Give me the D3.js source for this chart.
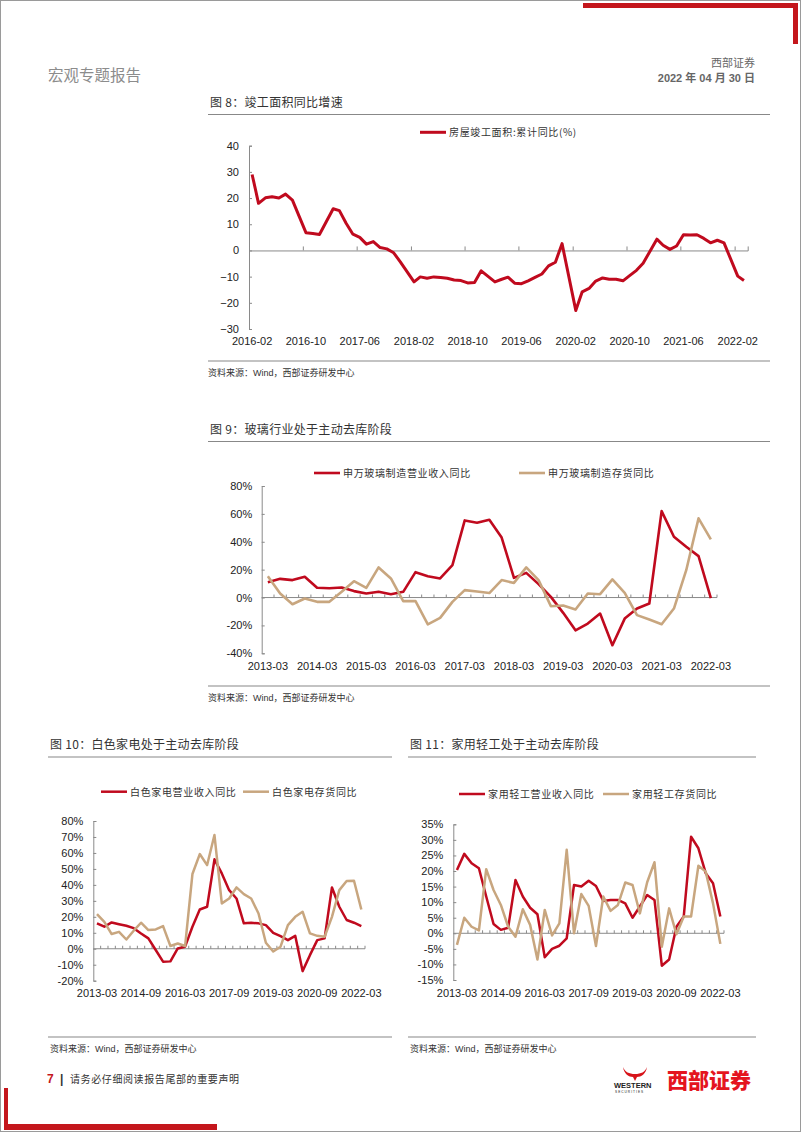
<!DOCTYPE html>
<html><head><meta charset="utf-8">
<script src="https://cdn.jsdelivr.net/npm/d3@7/dist/d3.min.js"></script>
<style>
html,body{margin:0;padding:0;background:#fff;}
svg{display:block;}
text{font-family:"Liberation Sans",Arial,"Noto Sans CJK SC",sans-serif;}
</style></head><body>
<svg id="page" width="802" height="1133"></svg>
<script>
// ---------- Chart 8: 房屋竣工面积:累计同比(%) ----------
const completionMonths = [
 "2016-02","2016-03","2016-04","2016-05","2016-06","2016-07","2016-08","2016-09","2016-10","2016-11","2016-12",
 "2017-02","2017-03","2017-04","2017-05","2017-06","2017-07","2017-08","2017-09","2017-10","2017-11","2017-12",
 "2018-02","2018-03","2018-04","2018-05","2018-06","2018-07","2018-08","2018-09","2018-10","2018-11","2018-12",
 "2019-02","2019-03","2019-04","2019-05","2019-06","2019-07","2019-08","2019-09","2019-10","2019-11","2019-12",
 "2020-02","2020-03","2020-04","2020-05","2020-06","2020-07","2020-08","2020-09","2020-10","2020-11","2020-12",
 "2021-02","2021-03","2021-04","2021-05","2021-06","2021-07","2021-08","2021-09","2021-10","2021-11","2021-12",
 "2022-02","2022-03"];
const completionYoY = [
 29.0, 18.0, 20.1, 20.5, 20.0, 21.5, 19.2, 12.9, 6.8, 6.5, 6.1,
 15.9, 15.2, 10.3, 6.2, 5.0, 2.4, 3.4, 1.1, 0.6, -0.9, -4.4,
 -12.0, -10.1, -10.6, -10.1, -10.3, -10.6, -11.3, -11.5, -12.4, -12.2, -7.8,
 -12.0, -11.1, -10.2, -12.5, -12.7, -11.6, -10.3, -9.0, -5.9, -4.5, 2.6,
 -22.9, -15.8, -14.5, -11.7, -10.5, -11.0, -11.0, -11.6, -9.6, -7.6, -4.9,
 4.3, 2.0, 0.4, 1.7, 6.0, 5.9, 6.0, 4.6, 2.9, 3.9, 2.9,
 -9.8, -11.5];
const completionTicks = ["2016-02","2016-10","2017-06","2018-02","2018-10","2019-06","2020-02","2020-10","2021-06","2022-02"];
const completionYTicks = [-30,-20,-10,0,10,20,30,40];
const completionName = "房屋竣工面积:累计同比(%)";

// ---------- Quarterly categories (charts 9-11) ----------
const quarters = [
 "2013-03","2013-06","2013-09","2013-12","2014-03","2014-06","2014-09","2014-12",
 "2015-03","2015-06","2015-09","2015-12","2016-03","2016-06","2016-09","2016-12",
 "2017-03","2017-06","2017-09","2017-12","2018-03","2018-06","2018-09","2018-12",
 "2019-03","2019-06","2019-09","2019-12","2020-03","2020-06","2020-09","2020-12",
 "2021-03","2021-06","2021-09","2021-12","2022-03"];

// ---------- Chart 9: 玻璃 ----------
const glassRevenue = [11, 13.4, 12.5, 14.9, 7, 6.7, 7.2, 4.6, 2.9, 4.1, 2.4, 4.1, 18.2, 15.3, 13.7, 23.2,
 55.3, 53.7, 55.8, 43, 14.1, 17.7, 9.6, 0.5, -11, -23.5, -18.7, -11.5, -34.2, -15.1, -7.9, -4.3,
 62, 43.6, 36.4, 29.7, -0.5];
const glassInventory = [15.3, 2.9, -4.8, -0.7, -3.1, -3.1, 4.1, 11.7, 6.9, 21.6, 13.7, -2.6, -2.6, -19.2, -14.6, -3.1,
 5.3, 4.3, 3.2, 12.5, 10.5, 21.6, 12.5, -6.2, -5.7, -8.6, 2.9, 2.4, 13.0, 3.4, -12.6, -15.8,
 -19.2, -7.9, 19.6, 56.8, 41.7];
const glassTicks = ["2013-03","2014-03","2015-03","2016-03","2017-03","2018-03","2019-03","2020-03","2021-03","2022-03"];
const glassYTicks = [-40,-20,0,20,40,60,80];
const glassNames = ["申万玻璃制造营业收入同比","申万玻璃制造存货同比"];

// ---------- Chart 10: 白色家电 ----------
const applianceRevenue = [15.9, 13.8, 16.5, 15.4, 14.4, 12.9, 9.6, 6.5, -0.8, -8.1, -7.9, 0.2, 1.3, 13.8, 24.6, 26.3,
 56.0, 47.2, 36.7, 31.5, 15.9, 16.3, 15.9, 14.8, 10.0, 7.9, 5.4, 8.1, -14.0, -4.0, 5.4, 6.5,
 38.4, 26.3, 18.0, 16.3, 14.2];
const applianceInventory = [21.7, 16.9, 9.2, 10.6, 5.8, 11.3, 16.3, 11.7, 12.1, 14.2, 1.7, 3.3, 1.7, 46.8, 59.3, 52.4,
 71.2, 28.4, 31.5, 38.4, 34.2, 31.5, 22.1, 3.8, -1.7, 1.3, 14.8, 20.0, 23.2, 9.6, 8.1, 7.5,
 20.0, 36.7, 42.4, 42.6, 24.6];
const applianceYTicks = [-20,-10,0,10,20,30,40,50,60,70,80];
const applianceNames = ["白色家电营业收入同比","白色家电存货同比"];

// ---------- Chart 11: 家用轻工 ----------
const lightRevenue = [20.3, 25.5, 22.5, 20.9, 11.8, 3.0, 1.1, 1.8, 17.1, 11.8, 8.2, 6.1, -7.7, -5.0, -4.0, -1.6,
 15.5, 15.0, 16.9, 15.2, 10.4, 10.7, 10.7, 9.6, 5.0, 8.6, 12.3, 10.7, -10.4, -8.4, 2.1, 5.4,
 31.0, 27.3, 19.3, 16.1, 5.4];
const lightInventory = [-3.7, 5.0, 2.1, 0.9, 20.6, 13.9, 9.1, 2.1, -1.1, 7.7, 2.7, -8.4, 7.5, -0.7, 3.2, 26.8,
 0.0, 12.6, 8.8, -4.1, 11.8, 7.2, 9.1, 16.3, 15.5, 6.4, 16.4, 22.8, -4.3, 8.0, -0.3, 5.4,
 5.4, 21.7, 19.8, 9.6, -3.4];
const lightYTicks = [-15,-10,-5,0,5,10,15,20,25,30,35];
const lightNames = ["家用轻工营业收入同比","家用轻工存货同比"];
const halfTicks = ["2013-03","2014-09","2016-03","2017-09","2019-03","2020-09","2022-03"];

// ---------- styles ----------
const RED = "#C00A1E", TAN = "#C8A67F", AXIS = "#8a8a8a";
const svg = d3.select("#page");
const cjk = '"Noto Sans CJK SC","Liberation Sans",sans-serif';

// page frame
svg.append("rect").attr("x",0.5).attr("y",0.5).attr("width",800).attr("height",1131)
  .attr("fill","none").attr("stroke","#9a9a9a").attr("stroke-width",1);
// top-right red corner
svg.append("rect").attr("x",583).attr("y",3).attr("width",215).attr("height",5).attr("fill","#C4161C");
svg.append("rect").attr("x",793).attr("y",3).attr("width",5).attr("height",41).attr("fill","#C4161C");
// bottom-left red corner
svg.append("rect").attr("x",4).attr("y",1088).attr("width",4).attr("height",42).attr("fill","#C4161C");
svg.append("rect").attr("x",4).attr("y",1124).attr("width",213).attr("height",6).attr("fill","#C4161C");

// header
svg.append("text").attr("x",48).attr("y",81).style("font-family",cjk).style("font-size","15.5px")
  .attr("fill","#8c8c8c").text("宏观专题报告");
svg.append("text").attr("x",755).attr("y",67).attr("text-anchor","end").style("font-family",cjk)
  .style("font-size","11px").attr("fill","#666").text("西部证券");
svg.append("text").attr("x",755).attr("y",82).attr("text-anchor","end")
  .style("font-size","11px").style("font-weight","bold").attr("fill","#666").text("2022 年 04 月 30 日");

// footer
svg.append("text").attr("x",47).attr("y",1083).style("font-size","12px").style("font-weight","bold")
  .attr("fill","#C4161C").text("7");
svg.append("text").attr("x",60).attr("y",1083).style("font-size","12px").style("font-weight","bold")
  .attr("fill","#333").text("|");
svg.append("text").attr("x",70).attr("y",1083).style("font-family",cjk).style("font-size","10px")
  .style("letter-spacing","0.6px").attr("fill","#333").text("请务必仔细阅读报告尾部的重要声明");
// logo
svg.append("path").attr("d","M623,1067 C624,1074 629,1077 633,1077 L635,1081 L637,1077 C641,1077 646,1074 647,1067 C645,1072 641,1074 635,1074 C629,1074 625,1072 623,1067 Z")
  .attr("fill","#D7141A");
svg.append("text").attr("x",614).attr("y",1088).style("font-size","7.5px").style("font-weight","bold")
  .attr("fill","#222").text("WESTERN");
svg.append("text").attr("x",615).attr("y",1093).style("font-size","3.2px").style("letter-spacing","1px")
  .attr("fill","#222").text("SECURITIES");
svg.append("text").attr("x",667).attr("y",1088).style("font-family",cjk).style("font-size","21px")
  .style("font-weight","900").attr("fill","#E4151F").text("西部证券");

// titles + rules + source
function figureTitle(x, y, text, x1, x2, ruleY) {
  svg.append("text").attr("x",x).attr("y",y).style("font-family",cjk).style("font-size","12px")
    .style("letter-spacing","0.3px").attr("fill","#333").text(text);
  svg.append("line").attr("x1",x1).attr("x2",x2).attr("y1",ruleY).attr("y2",ruleY)
    .attr("stroke","#888").attr("stroke-width",1.2);
}
function source(x, y, x1, x2, ruleY) {
  svg.append("line").attr("x1",x1).attr("x2",x2).attr("y1",ruleY).attr("y2",ruleY)
    .attr("stroke","#888").attr("stroke-width",1.2);
  svg.append("text").attr("x",x).attr("y",y).style("font-size","9px").attr("fill","#333")
    .text("资料来源：Wind，西部证券研发中心");
}
figureTitle(210, 107, "图 8：竣工面积同比增速", 208, 770, 114.5);
source(208, 376, 208, 770, 361);
figureTitle(210, 434, "图 9：玻璃行业处于主动去库阶段", 208, 770, 441.5);
source(208, 701, 208, 770, 686);
figureTitle(50, 749, "图 10：白色家电处于主动去库阶段", 48, 392, 757);
figureTitle(410, 749, "图 11：家用轻工处于主动去库阶段", 408, 756, 757);
source(50, 1052, 48, 392, 1037);
source(410, 1052, 408, 756, 1037);

function legendItem(x, y, color, name, lw) {
  svg.append("line").attr("x1",x).attr("x2",x+26).attr("y1",y).attr("y2",y)
    .attr("stroke",color).attr("stroke-width",lw);
  svg.append("text").attr("x",x+29).attr("y",y+3.8).style("font-family",cjk).style("font-size","10px")
    .style("letter-spacing","0.65px").attr("fill","#333").text(name);
}

function styleAxis(g) {
  g.selectAll(".domain").attr("stroke",AXIS);
  g.selectAll(".tick line").attr("stroke",AXIS);
  g.selectAll("text").style("font-size","11px").attr("fill","#222")
    .style("font-family",'"Liberation Sans",Arial,sans-serif');
}

// ---------- Chart 8 ----------
(function(){
  const parse = d3.timeParse("%Y-%m");
  const x = d3.scaleTime().domain([new Date(2016,1,1), new Date(2022,3,1)]).range([249, 747.7]);
  const y = d3.scaleLinear().domain([-30,40]).range([329,145.7]);
  const mid = s => d3.timeDay.offset(parse(s), 14);
  const ya = svg.append("g").attr("transform","translate(249,0)")
    .call(d3.axisLeft(y).tickValues(completionYTicks).tickSize(-3).tickPadding(10).tickFormat(d3.format("d")));
  styleAxis(ya);
  // zero line with tick marks
  const xa = svg.append("g").attr("transform",`translate(0,${y(0)})`)
    .call(d3.axisTop(x).tickValues(completionTicks.map(parse)).tickSize(4).tickFormat(""));
  styleAxis(xa);
  // labels at bottom
  svg.append("g").selectAll("text").data(completionTicks).join("text")
    .attr("x", d => x(mid(d))).attr("y", y(-30) + 16).attr("text-anchor","middle")
    .style("font-size","11px").attr("fill","#222").text(d => d);
  const pts = completionMonths.map((m,i)=>({d:mid(m), v:completionYoY[i]}));
  svg.append("path").datum(pts)
    .attr("d", d3.line().x(p=>x(p.d)).y(p=>y(p.v)))
    .attr("fill","none").attr("stroke",RED).attr("stroke-width",3).attr("stroke-linejoin","round");
  legendItem(420, 132.3, RED, completionName, 3);
})();

// ---------- quarterly chart ----------
function quarterChart(o) {
  const x = d3.scaleBand().domain(quarters).range([o.x0, o.x1]).padding(0);
  const y = d3.scaleLinear().domain(o.domain).range([o.yb, o.yt]);
  const ya = svg.append("g").attr("transform",`translate(${o.x0},0)`)
    .call(d3.axisLeft(y).tickValues(o.yTicks).tickSize(-3).tickPadding(o.pad).tickFormat(d => d + "%"));
  styleAxis(ya);
  // category boundaries on zero line
  const bounds = quarters.map(q => x(q) + x.bandwidth());
  const z = y(0);
  svg.append("line").attr("x1",o.x0).attr("x2",o.x1).attr("y1",z).attr("y2",z).attr("stroke",AXIS);
  svg.append("g").selectAll("line").data(bounds).join("line")
    .attr("x1",d=>d).attr("x2",d=>d).attr("y1",z).attr("y2",z-3).attr("stroke",AXIS);
  svg.append("g").selectAll("text").data(o.xTicks).join("text")
    .attr("x", d => x(d) + x.bandwidth()/2).attr("y", o.yb + 16.5).attr("text-anchor","middle")
    .style("font-size","11px").attr("fill","#222").text(d => d);
  const line = d3.line().x((v,i) => x(quarters[i]) + x.bandwidth()/2).y(v => y(v));
  o.series.forEach(s => {
    svg.append("path").datum(s.values).attr("d", line)
      .attr("fill","none").attr("stroke",s.color).attr("stroke-width",o.lw).attr("stroke-linejoin","round");
  });
  o.series.forEach(s => legendItem(s.lx, o.ly, s.color, s.name, o.lw));
}

quarterChart({x0:261.7, x1:717, yt:486, yb:653.3, domain:[-40,80], yTicks:glassYTicks, pad:9.5,
  xTicks:glassTicks, lw:2.6, ly:473,
  series:[{values:glassRevenue, color:RED, name:glassNames[0], lx:314},
          {values:glassInventory, color:TAN, name:glassNames[1], lx:519}]});

quarterChart({x0:93.3, x1:365, yt:821, yb:980.7, domain:[-20,80], yTicks:applianceYTicks, pad:10,
  xTicks:halfTicks, lw:2.5, ly:791.7,
  series:[{values:applianceRevenue, color:RED, name:applianceNames[0], lx:101},
          {values:applianceInventory, color:TAN, name:applianceNames[1], lx:243}]});

quarterChart({x0:453.3, x1:724, yt:824.3, yb:980, domain:[-15,35], yTicks:lightYTicks, pad:10,
  xTicks:halfTicks, lw:2.5, ly:794,
  series:[{values:lightRevenue, color:RED, name:lightNames[0], lx:459},
          {values:lightInventory, color:TAN, name:lightNames[1], lx:603}]});
</script>
</body></html>
